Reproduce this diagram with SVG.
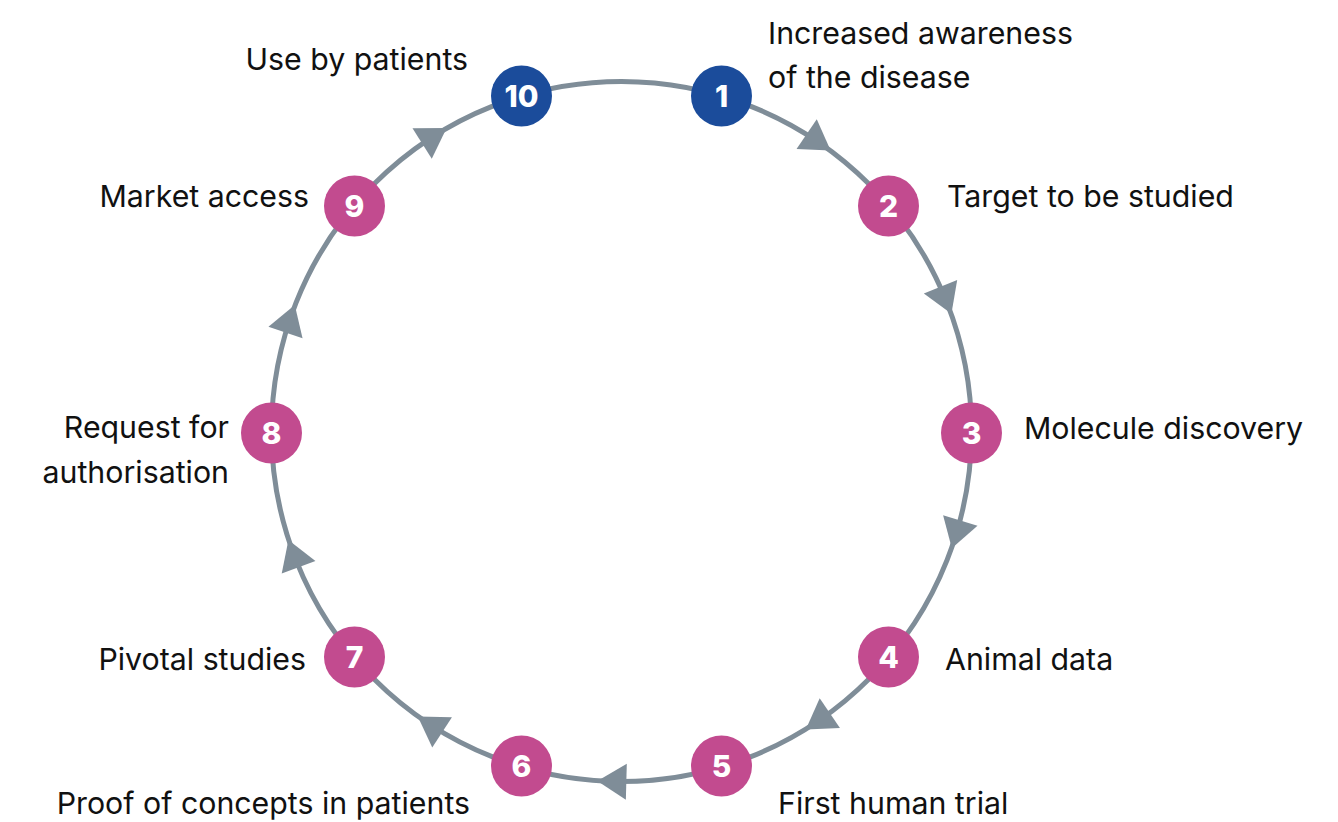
<svg xmlns="http://www.w3.org/2000/svg" xmlns:xlink="http://www.w3.org/1999/xlink" width="1338" height="822" viewBox="0 0 1338 822">
<style>
.ring{fill:none;stroke:#7f8d98;stroke-width:5}
.arr{fill:#7f8d98}
.nb{fill:#1b4c9b}
.np{fill:#c24b8f}
.num{font-family:Inter,"Noto Sans",sans-serif;font-weight:800;font-size:30px;fill:#fff;text-anchor:middle}
.lbl{font-family:Inter,"Noto Sans",sans-serif;font-size:30.3px;fill:#111}
.end{text-anchor:end}
</style>
<defs>
<polygon id="arrow" class="arr" points="15,0 -14,-18 -14,18"/>
</defs>
<rect width="1338" height="822" fill="#fff"/>
<g id="connectors">
<circle class="ring" cx="621.5" cy="431.5" r="350"/>
<use xlink:href="#arrow" transform="rotate(34.2 621.5 431.5) translate(621.5 81.5)"/>
<use xlink:href="#arrow" transform="rotate(67.9 621.5 431.5) translate(621.5 81.5)"/>
<use xlink:href="#arrow" transform="rotate(107 621.5 431.5) translate(621.5 81.5)"/>
<use xlink:href="#arrow" transform="rotate(145.8 621.5 431.5) translate(621.5 81.5)"/>
<use xlink:href="#arrow" transform="rotate(181.5 621.5 431.5) translate(621.5 81.5)"/>
<use xlink:href="#arrow" transform="rotate(213.1 621.5 431.5) translate(621.5 81.5)"/>
<use xlink:href="#arrow" transform="rotate(249.5 621.5 431.5) translate(621.5 81.5)"/>
<use xlink:href="#arrow" transform="rotate(288.7 621.5 431.5) translate(621.5 81.5)"/>
<use xlink:href="#arrow" transform="rotate(327.6 621.5 431.5) translate(621.5 81.5)"/>
</g>
<g id="node1"><circle class="nb" cx="721.5" cy="96" r="30.5"/><text class="num" x="721.5" y="107">1</text>
<text class="lbl" x="768" y="43.5">Increased awareness</text><text class="lbl" x="768" y="87.5">of the disease</text></g>
<g id="node2"><circle class="np" cx="888.5" cy="206" r="30.5"/><text class="num" x="888.5" y="217">2</text>
<text class="lbl" x="947" y="206.5">Target to be studied</text></g>
<g id="node3"><circle class="np" cx="971.5" cy="433" r="30.5"/><text class="num" x="971.5" y="444">3</text>
<text class="lbl" x="1024" y="438.5">Molecule discovery</text></g>
<g id="node4"><circle class="np" cx="888.5" cy="657" r="30.5"/><text class="num" x="888.5" y="668">4</text>
<text class="lbl" x="945" y="669.5">Animal data</text></g>
<g id="node5"><circle class="np" cx="721.5" cy="766" r="30.5"/><text class="num" x="721.5" y="777">5</text>
<text class="lbl" x="778" y="813.5">First human trial</text></g>
<g id="node6"><circle class="np" cx="521.5" cy="766" r="30.5"/><text class="num" x="521.5" y="777">6</text>
<text class="lbl end" x="470" y="813.5">Proof of concepts in patients</text></g>
<g id="node7"><circle class="np" cx="354.5" cy="657" r="30.5"/><text class="num" x="354.5" y="668">7</text>
<text class="lbl end" x="306" y="669.5">Pivotal studies</text></g>
<g id="node8"><circle class="np" cx="271.5" cy="433" r="30.5"/><text class="num" x="271.5" y="444">8</text>
<text class="lbl end" x="229" y="437.5">Request for</text><text class="lbl end" x="229" y="482.5">authorisation</text></g>
<g id="node9"><circle class="np" cx="354.5" cy="206" r="30.5"/><text class="num" x="354.5" y="217">9</text>
<text class="lbl end" x="309" y="206.5">Market access</text></g>
<g id="node10"><circle class="nb" cx="521.5" cy="96" r="30.5"/><text class="num" x="521.5" y="107">10</text>
<text class="lbl end" x="468" y="69.5">Use by patients</text></g>
</svg>
